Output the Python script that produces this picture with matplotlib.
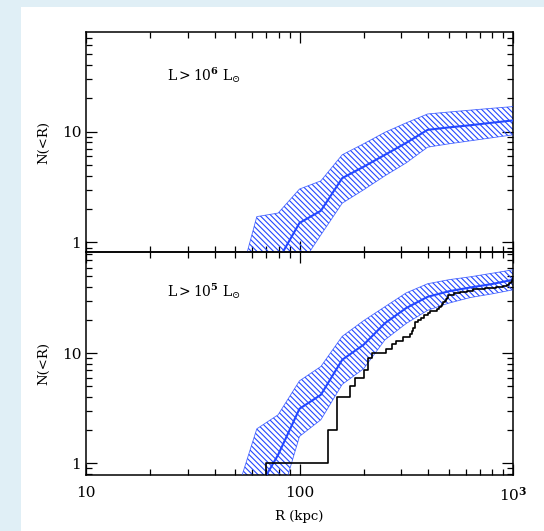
import numpy as np
import matplotlib
matplotlib.use("Agg")
import matplotlib.pyplot as plt
from matplotlib.patches import Rectangle
from matplotlib.ticker import FixedLocator, FixedFormatter, NullFormatter

plt.rcParams['font.family'] = ['DejaVu Serif']
plt.rcParams['mathtext.fontset'] = 'dejavuserif'
plt.rcParams['hatch.linewidth'] = 0.8

# ---- data ----
R_bins = [50.1, 63.1, 79.4, 100.0, 125.9, 158.5, 199.5, 251.2, 316.2, 398.1, 501.2, 631.0, 794.3, 1000.0]

# L > 1e6 Lsun (top panel)
top_upper = [0.33, 1.71, 1.84, 3.03, 3.59, 6.17, 7.75, 9.84, 11.98, 14.4, 15.0, 15.6, 16.2, 16.8]
top_median = [0.10, 0.30, 0.69, 1.50, 1.93, 3.80, 4.81, 6.17, 7.91, 10.36, 10.9, 11.4, 12.0, 12.6]
top_lower = [0.05, 0.10, 0.25, 0.60, 1.17, 2.26, 2.98, 3.99, 5.22, 7.23, 7.75, 8.25, 8.78, 9.34]

# L > 1e5 Lsun (bottom panel)
bot_upper = [0.50, 2.05, 2.75, 5.6, 7.55, 14.2, 19.7, 26.4, 35.3, 42.7, 46.5, 49.4, 53.1, 57.2]
bot_median = [0.15, 0.55, 1.19, 3.12, 4.18, 8.7, 11.9, 18.7, 25.7, 32.5, 36.5, 39.5, 42.4, 46.4]
bot_lower = [0.05, 0.15, 0.39, 1.75, 2.48, 5.2, 7.2, 13.2, 18.6, 24.5, 28.5, 32.0, 34.5, 37.6]

# observed satellites distances (kpc), each one adds to cumulative count
obs_dist = [69.7, 136.5, 149.4, 149.4, 172, 182, 200, 210, 210, 219,
            255, 270, 283, 305, 329, 335, 340, 347, 347, 360, 372,
            385, 398, 410, 439, 450, 458, 465, 470, 480, 485, 490, 494, 497,
            530, 563, 610, 650, 740, 835, 900, 935, 960, 975, 985, 992, 997, 999]

panel_labels = [r'L$>$10$^{\mathbf{6}}$ L$_{\odot}$', r'L$>$10$^{\mathbf{5}}$ L$_{\odot}$']
xtick_vals = [10, 100, 1000]
xtick_labels = ['10', '100', r'10$^{\mathbf{3}}$']
ytick_vals = [1, 10]
ytick_labels = ['1', '10']

blue = '#2448ff'

W, H = 544, 531
fig = plt.figure(figsize=(W / 100, H / 100), dpi=100, facecolor='#e0eff6')
fig.patches.append(Rectangle((21 / W, 0), 1 - 21 / W, 1 - 7 / H, transform=fig.transFigure,
                             facecolor='white', edgecolor='none', zorder=-10))

left = 86 / W
width = (513 - 86) / W
ax_top = fig.add_axes([left, 1 - 252 / H, width, 220 / H])
ax_bot = fig.add_axes([left, 1 - 475 / H, width, 223 / H])

def style(ax, ylim, show_x):
    ax.set_xscale('log')
    ax.set_yscale('log')
    ax.set_xlim(10, 1000)
    ax.set_ylim(*ylim)
    ax.set_facecolor('none')
    for s in ax.spines.values():
        s.set_linewidth(1.1)
    ax.tick_params(which='both', direction='in', top=True, right=True, width=0.9, colors='black',
                   labelsize=11)
    ax.tick_params(which='major', length=8)
    ax.tick_params(which='minor', length=4)
    ax.xaxis.set_major_locator(FixedLocator(xtick_vals))
    ax.yaxis.set_major_locator(FixedLocator(ytick_vals))
    ax.yaxis.set_major_formatter(FixedFormatter(ytick_labels))
    ax.yaxis.set_minor_formatter(NullFormatter())
    ax.xaxis.set_minor_formatter(NullFormatter())
    if show_x:
        ax.xaxis.set_major_formatter(FixedFormatter(xtick_labels))
    else:
        ax.xaxis.set_major_formatter(NullFormatter())
    ax.set_ylabel('N(<R)', fontsize=9.5, labelpad=8)

def band(ax, up, med, lo):
    ax.fill_between(R_bins, lo, up, facecolor='none', edgecolor=blue, hatch='\\' * 6,
                    linewidth=0.0, zorder=2)
    ax.plot(R_bins, up, color=blue, lw=0.6, alpha=0.8, zorder=3)
    ax.plot(R_bins, lo, color=blue, lw=0.6, alpha=0.8, zorder=3)
    ax.plot(R_bins, med, color=blue, lw=1.5, zorder=4)

band(ax_top, top_upper, top_median, top_lower)
style(ax_top, (0.82, 79), False)
ax_top.text(0.19, 0.78, panel_labels[0], transform=ax_top.transAxes, fontsize=10)

band(ax_bot, bot_upper, bot_median, bot_lower)
obs_N = np.arange(1, len(obs_dist) + 1)
ax_bot.step(np.r_[obs_dist[0], obs_dist, 1000], np.r_[0.5, obs_N, obs_N[-1]], where='post',
            color='black', lw=1.2, zorder=5)
style(ax_bot, (0.78, 83), True)
ax_bot.text(0.19, 0.80, panel_labels[1], transform=ax_bot.transAxes, fontsize=10)
ax_bot.set_xlabel('R (kpc)', fontsize=9.5, labelpad=4)
ax_bot.tick_params(axis='x', pad=8)

fig.savefig('out.png', dpi=100, facecolor=fig.get_facecolor())
